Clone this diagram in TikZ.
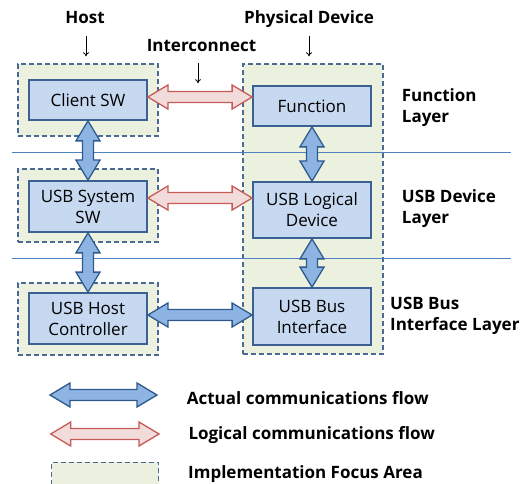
\documentclass[tikz,border=0pt]{standalone}
\usepackage{fontspec}
\setmainfont{Open Sans}
\usetikzlibrary{calc,arrows.meta}
\definecolor{boxfill}{HTML}{C6D9F1}
\definecolor{boxdraw}{HTML}{3B6192}
\definecolor{areafill}{HTML}{EBF1DE}
\definecolor{areadraw}{HTML}{4A6A93}
\definecolor{bluefill}{HTML}{8DB4E2}
\definecolor{bluedraw}{HTML}{2E5A8C}
\definecolor{redfill}{HTML}{F2DCDB}
\definecolor{reddraw}{HTML}{C55A57}
\definecolor{layerline}{HTML}{4F81BD}
\tikzset{
 area/.style={draw=areadraw, fill=areafill, line width=1.3pt, dash pattern=on 5pt off 3pt, inner sep=0, minimum width=140pt},
 block/.style={draw=boxdraw, fill=boxfill, line width=1.8pt, minimum width=118pt, align=center, font=\fontsize{17}{21}\selectfont, inner sep=0},
 lbl/.style={font=\fontsize{17}{21}\selectfont\bfseries, align=left, inner sep=0},
 actual/.style={draw=bluedraw, fill=bluefill, line width=1.3pt},
 logical/.style={draw=reddraw, fill=redfill, line width=1.3pt},
 pointer/.style={-{To[length=4pt,width=6pt]}, line width=0.8pt},
 layerrule/.style={draw=layerline, line width=1pt},
}
% #1 style, #2 name, #3 start, #4 end
\newcommand\flowarrow[4]{%
 \coordinate (#2-a) at ($(#3)!20pt!(#4)$);
 \coordinate (#2-b) at ($(#4)!20pt!(#3)$);
 \draw[#1] (#3) -- ($(#2-a)!12pt!90:(#4)$) -- ($(#2-a)!5.5pt!90:(#4)$)
  -- ($(#2-b)!5.5pt!-90:(#3)$) -- ($(#2-b)!12pt!-90:(#3)$) -- (#4)
  -- ($(#2-b)!12pt!90:(#3)$) -- ($(#2-b)!5.5pt!90:(#3)$)
  -- ($(#2-a)!5.5pt!-90:(#4)$) -- ($(#2-a)!12pt!-90:(#4)$) -- cycle;}
\begin{document}
\begin{tikzpicture}[x=1pt,y=-1pt]
\useasboundingbox (0,0) rectangle (520,484);
\clip (0,0) rectangle (520,484);
% focus areas
\node[area, minimum height=72pt] (harea1) at (88,100) {};
\node[area, minimum height=73pt] (harea2) at (88,205.5) {};
\node[area, minimum height=72pt] (harea3) at (88,319) {};
\node[area, minimum height=290pt] (darea) at (313,209) {};
% layer rules
\draw[layerrule] (12,153) -- (511,153);
\draw[layerrule] (12,259) -- (511,259);
% blocks
\node[block, minimum height=40pt] (client) at (88,100) {Client SW};
\node[block, minimum height=40pt] (func) at (312,106) {Function};
\node[block, minimum height=51pt] (sys) at (88,206.5) {USB System\\SW};
\node[block, minimum height=56pt] (logic) at (312,210) {USB Logical\\Device};
\node[block, minimum height=51pt] (hctrl) at (88,318.5) {USB Host\\Controller};
\node[block, minimum height=57pt] (bus) at (312,316.5) {USB Bus\\Interface};
% labels
\node[lbl, anchor=base] (host) at (85,23.3) {Host};
\node[lbl, anchor=base] (phys) at (309,23.3) {Physical Device};
\node[lbl, anchor=base] (inter) at (201.5,51.7) {Interconnect};
\draw[pointer] ([xshift=1pt,yshift=-13pt]host.base) -- ++(0,20);
\draw[pointer] ([yshift=-13pt]phys.base) -- ++(0,20);
\draw[pointer] ([xshift=-3.5pt,yshift=-11.5pt]inter.base) -- ++(0,20);
\node[lbl, anchor=base west] (flayer) at (401.7,122.5) {Function\\Layer};
\node[lbl, anchor=base west] (dlayer) at (401.7,223.5) {USB Device\\Layer};
\node[lbl, anchor=base west] (blayer) at (390,330.3) {USB Bus\\Interface Layer};
% flows
\coordinate (r1s) at ([yshift=3pt]client.east);
\coordinate (r1e) at (func.west |- r1s);
\flowarrow{logical}{arr1}{r1s}{r1e}
\coordinate (r2s) at ([yshift=8.5pt]sys.east);
\coordinate (r2e) at (logic.west |- r2s);
\flowarrow{logical}{arr2}{r2s}{r2e}
\coordinate (b1s) at ([yshift=3.5pt]hctrl.east);
\coordinate (b1e) at (bus.west |- b1s);
\flowarrow{actual}{arr3}{b1s}{b1e}
\flowarrow{actual}{arr4}{client.south}{sys.north}
\flowarrow{actual}{arr5}{sys.south}{hctrl.north}
\flowarrow{actual}{arr6}{func.south}{logic.north}
\flowarrow{actual}{arr7}{logic.south}{bus.north}
% legend
\coordinate (la) at (50,395);
\coordinate (lb) at (157,395);
\flowarrow{actual}{legact}{la}{lb}
\coordinate (lc) at (50.7,434);
\coordinate (ld) at (159,434);
\flowarrow{logical}{leglog}{lc}{ld}
\node[area, minimum width=107pt, minimum height=40pt, anchor=north west] (legarea) at (51,461.7) {};
\node[lbl, anchor=base west] (t1) at (186.7,404.3) {Actual communications flow};
\node[lbl, anchor=base west] (t2) at (188.3,439.3) {Logical communications flow};
\node[lbl, anchor=base west] (t3) at (188,478.3) {Implementation Focus Area};
\end{tikzpicture}
\end{document}
